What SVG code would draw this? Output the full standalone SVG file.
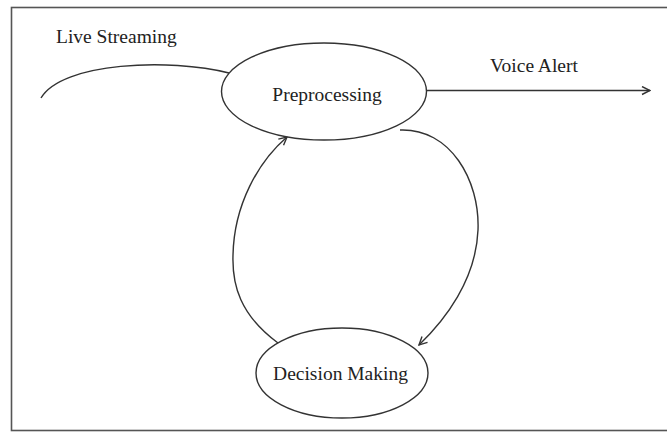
<svg xmlns="http://www.w3.org/2000/svg" width="667" height="432" viewBox="0 0 667 432">
<style>
.frame{fill:none;stroke:#555;stroke-width:1.6}
.node{fill:#fff;stroke:#333;stroke-width:1.4}
.edge{fill:none;stroke:#333;stroke-width:1.4}
.lbl{font-family:"Liberation Serif","Times New Roman",serif;font-size:19.5px;fill:#222}
</style>
<defs>
<marker id="open" viewBox="0 0 10 10" refX="9" refY="5" markerWidth="10" markerHeight="10" markerUnits="userSpaceOnUse" orient="auto">
<path d="M1,1 L9,5 L1,9" fill="none" stroke="#333" stroke-width="1.4"/>
</marker>
</defs>
<rect width="667" height="432" fill="#fff"/>
<rect class="frame" x="11.5" y="7.5" width="670" height="423"/>
<g id="connectors">
<path id="live-in" class="edge" d="M41,98 C62,62 170,58 229,73"/>
<path id="voice-out" class="edge" d="M426.5,90.5 L650,90.5" marker-end="url(#open)"/>
<path id="pre-to-dec" class="edge" d="M400,130 C450,128 480,180 478,230 C476,280 445,320 419,345" marker-end="url(#open)"/>
<path id="dec-to-pre" class="edge" d="M278,343 C240,315 232,285 233,255 C234,205 258,162 287,137" marker-end="url(#open)"/>
</g>
<g id="preprocessing">
<ellipse class="node" cx="324" cy="91.5" rx="102.5" ry="48.5"/>
<text class="lbl" x="327" y="101" text-anchor="middle">Preprocessing</text>
</g>
<g id="decision-making">
<ellipse class="node" cx="342" cy="373" rx="86" ry="45"/>
<text class="lbl" x="340.5" y="380" text-anchor="middle">Decision Making</text>
</g>
<g id="labels">
<text class="lbl" x="56" y="43">Live Streaming</text>
<text class="lbl" x="490" y="72">Voice Alert</text>
</g>
</svg>
